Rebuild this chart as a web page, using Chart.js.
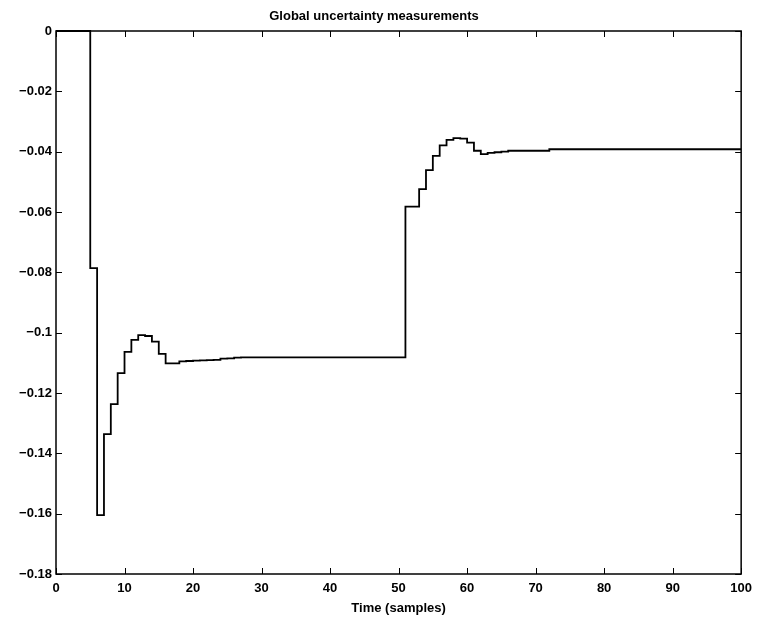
<!DOCTYPE html>
<html>
<head>
<meta charset="utf-8">
<script src="https://cdn.jsdelivr.net/npm/chart.js@4"></script>
<style>
  html, body { margin: 0; padding: 0; background: #fff; }
  #wrap { width: 759px; height: 617px; }
</style>
</head>
<body>
<div id="wrap"><canvas id="incertidumbre"></canvas></div>
<script>
// Global uncertainty measurements (stairs plot, one value per sample)
const chartTitle = 'Global uncertainty measurements';
const xTitle = 'Time (samples)';
const xTicks = [0, 10, 20, 30, 40, 50, 60, 70, 80, 90, 100];
const yTicks = [0, -0.02, -0.04, -0.06, -0.08, -0.1, -0.12, -0.14, -0.16, -0.18];

// value held from sample t to t+1
const uncertainty = [
  0, 0, 0, 0, 0,
  -0.0786, -0.1605, -0.1336, -0.1237, -0.1134,          // 5-9
  -0.1064, -0.1024, -0.1008, -0.1011, -0.1030,          // 10-14
  -0.1070, -0.1102, -0.1102, -0.1095, -0.1094,          // 15-19
  -0.1093, -0.1092, -0.1091, -0.1090, -0.1086,          // 20-24
  -0.1085, -0.1083, -0.1082, -0.1082, -0.1082,          // 25-29
  -0.1082, -0.1082, -0.1082, -0.1082, -0.1082,          // 30-34
  -0.1082, -0.1082, -0.1082, -0.1082, -0.1082,          // 35-39
  -0.1082, -0.1082, -0.1082, -0.1082, -0.1082,          // 40-44
  -0.1082, -0.1082, -0.1082, -0.1082, -0.1082,          // 45-49
  -0.1082, -0.0582, -0.0582, -0.0524, -0.0461,          // 50-54
  -0.0414, -0.0379, -0.0361, -0.0355, -0.0357,          // 55-59
  -0.0370, -0.0397, -0.0408, -0.0404, -0.0402,          // 60-64
  -0.0400, -0.0397, -0.0397, -0.0397, -0.0397,          // 65-69
  -0.0397, -0.0397, -0.0392, -0.0392, -0.0392,          // 70-74
  -0.0392, -0.0392, -0.0392, -0.0392, -0.0392,          // 75-79
  -0.0392, -0.0392, -0.0392, -0.0392, -0.0392,          // 80-84
  -0.0392, -0.0392, -0.0392, -0.0392, -0.0392,          // 85-89
  -0.0392, -0.0392, -0.0392, -0.0392, -0.0392,          // 90-94
  -0.0392, -0.0392, -0.0392, -0.0392, -0.0392,          // 95-99
  -0.0392                                               // 100
];

const fuente = '"Liberation Sans", Arial, Helvetica, sans-serif';

// matlab style box with ticks pointing inwards on all four sides
const cajaMatlab = {
  id: 'cajaMatlab',
  afterDraw(chart) {
    const c = chart.ctx;
    const a = chart.chartArea;
    const sx = chart.scales.x, sy = chart.scales.y;
    const largo = 6;
    c.save();
    c.strokeStyle = '#000';
    c.lineWidth = 1.5;
    c.strokeRect(a.left, a.top, a.right - a.left, a.bottom - a.top);
    c.lineWidth = 1;
    c.beginPath();
    xTicks.forEach(function (v) {
      const px = Math.round(sx.getPixelForValue(v)) + 0.5;
      c.moveTo(px, a.bottom); c.lineTo(px, a.bottom - largo);
      c.moveTo(px, a.top); c.lineTo(px, a.top + largo);
    });
    yTicks.forEach(function (v) {
      const py = Math.round(sy.getPixelForValue(v)) + 0.5;
      c.moveTo(a.left, py); c.lineTo(a.left + largo, py);
      c.moveTo(a.right, py); c.lineTo(a.right - largo, py);
    });
    c.stroke();
    c.restore();
  }
};

const ctx = document.getElementById('incertidumbre').getContext('2d');
const myChart = new Chart(ctx, {
  type: 'line',
  data: {
    datasets: [{
      label: 'uncertainty',
      data: uncertainty.map(function (v, t) { return { x: t, y: v }; }),
      stepped: true,
      borderColor: '#000',
      borderWidth: 1.8,
      pointRadius: 0,
      fill: false,
      clip: false
    }]
  },
  options: {
    responsive: true,
    maintainAspectRatio: false,
    animation: false,
    layout: { padding: { left: 0, right: 11, top: 0, bottom: 0 } },
    plugins: {
      legend: { display: false },
      tooltip: { enabled: false },
      title: {
        display: true,
        text: chartTitle,
        color: '#000',
        font: { family: fuente, size: 13, weight: 'bold', lineHeight: 1.2 },
        padding: { top: 9, bottom: 6.4 }
      }
    },
    scales: {
      x: {
        type: 'linear',
        min: 0,
        max: 100,
        afterBuildTicks: function (scale) {
          scale.ticks = xTicks.map(function (v) { return { value: v }; });
        },
        afterFit: function (scale) { scale.height = 43; },
        grid: { display: false, drawTicks: false },
        border: { display: false },
        ticks: {
          color: '#000',
          padding: 7,
          maxRotation: 0,
          font: { family: fuente, size: 13, weight: 'bold' }
        },
        title: {
          display: true,
          text: xTitle,
          color: '#000',
          font: { family: fuente, size: 13, weight: 'bold' },
          padding: { top: 0, bottom: 1 }
        }
      },
      y: {
        type: 'linear',
        min: -0.18,
        max: 0,
        afterBuildTicks: function (scale) {
          scale.ticks = yTicks.map(function (v) { return { value: v }; });
        },
        afterFit: function (scale) { scale.width = 56; },
        grid: { display: false, drawTicks: false },
        border: { display: false },
        ticks: {
          color: '#000',
          padding: 4,
          font: { family: fuente, size: 13, weight: 'bold' },
          callback: function (value) {
            const r = Math.round(value * 100) / 100;
            return r === 0 ? '0' : String(r).replace('-', '\u2212');
          }
        }
      }
    }
  },
  plugins: [cajaMatlab]
});
</script>
</body>
</html>
